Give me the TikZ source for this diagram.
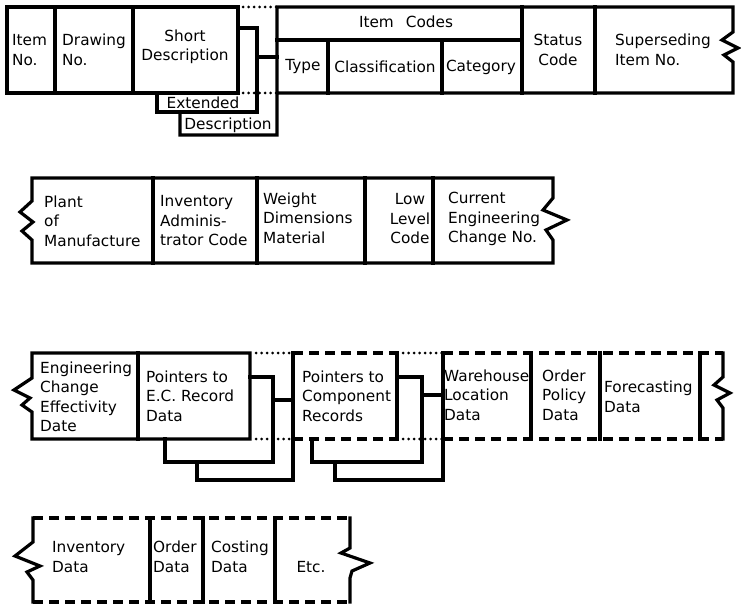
\documentclass[tikz,border=0pt]{standalone}
\usepackage{fontspec}
\setmainfont{DejaVu Sans}
\begin{document}
\begin{tikzpicture}[x=1pt,y=-1pt,
  boxline/.style={line width=3.2pt, line join=miter, line cap=rect},
  dashline/.style={line width=3.2pt, dash pattern=on 10pt off 6pt},
  dotline/.style={line width=3pt, line cap=round, dash pattern=on 0pt off 5.5pt},
  lbl/.style={font=\fontsize{15.3}{19.5}\selectfont, inner sep=0pt, align=left, anchor=west},
  clbl/.style={font=\fontsize{15.3}{19.5}\selectfont, inner sep=0pt, align=center}]
\useasboundingbox (0,0) rectangle (741,604);

% ---------- Row 1 ----------
\draw[boxline] (7,7) rectangle (238,93);
\draw[boxline] (55,7)--(55,93) (133,7)--(133,93);
\draw[dotline] (243,7)--(277,7) (243,93)--(277,93);
\draw[boxline] (180,112)--(180,135)--(277,135)--(277,7)--(733,7)--(733,32)--(722,40)--(738,48)--(724,55)--(733,62)--(733,93)--(277,93);
\draw[boxline] (277,40)--(522,40) (328,40)--(328,93) (442,40)--(442,93) (522,7)--(522,93) (595,7)--(595,93);
\draw[boxline] (238,28)--(257,28)--(257,112)--(157,112)--(157,93);
\draw[boxline] (257,57)--(277,57);

\node[lbl] (itemno) at (12,50) {Item\\No.};
\node[lbl] (drawno) at (62,50) {Drawing\\No.};
\node[clbl] (shortd) at (185,47) {Short\\Description};
\node[clbl] (ext) at (203,103) {Extended};
\node[clbl] (extd) at (228,125) {Description};
\node[clbl] (itemcodes) at (406,22) {Item\hspace{12pt}Codes};
\node[clbl] (type) at (303,67) {Type};
\node[clbl] (classif) at (385,67) {Classification};
\node[clbl] (categ) at (481,67) {Category};
\node[clbl] (status) at (558,50) {Status\\Code};
\node[lbl] (supers) at (615,50) {Superseding\\Item No.};

% ---------- Row 2 ----------
\draw[boxline] (32,178)--(553,178)--(553,198)--(543,210)--(567,220)--(546,230)--(553,240)--(553,263)--(32,263)--(32,240)--(22,231)--(33,222)--(20,212)--(32,201)--cycle;
\draw[boxline] (153,178)--(153,263) (257,178)--(257,263) (365,178)--(365,263) (433,178)--(433,263);

\node[lbl] (plant) at (44,221) {Plant\\of\\Manufacture};
\node[lbl] (invadm) at (160,221) {Inventory\\Adminis-\\trator Code};
\node[lbl] (weight) at (263,218) {Weight\\Dimensions\\Material};
\node[clbl] (lowlev) at (410,219) {Low\\Level\\Code};
\node[lbl] (curreng) at (448,219) {Current\\Engineering\\Change No.};

% ---------- Row 3 ----------
\draw[boxline] (250,353)--(32,353)--(32,378)--(14,390)--(30,398)--(22,405)--(32,412)--(32,439)--(250,439)--cycle;
\draw[boxline] (138,353)--(138,439);
\draw[dotline] (256,353)--(293,353) (256,439)--(293,439);
\draw[boxline] (250,377)--(273,377)--(273,462)--(165,462)--(165,439);
\draw[boxline] (273,400)--(293,400);
\draw[boxline] (197,462)--(197,480)--(293,480)--(293,353);
\draw[dashline] (293,353)--(397,353) (293,439)--(397,439);
\draw[boxline] (397,353)--(397,439);
\draw[dotline] (403,353)--(443,353) (403,439)--(443,439);
\draw[boxline] (397,377)--(422,377)--(422,462)--(312,462)--(312,439);
\draw[boxline] (422,395)--(443,395);
\draw[boxline] (335,462)--(335,480)--(443,480)--(443,353);
\draw[dashline] (443,353)--(723,353) (443,439)--(723,439);
\draw[boxline] (531,353)--(531,439) (600,353)--(600,439) (700,353)--(700,439);
\draw[boxline] (723,353)--(723,377)--(714,385)--(730,393)--(717,400)--(723,408)--(723,439);

\node[lbl] (engchg) at (40,397) {Engineering\\Change\\Effectivity\\Date};
\node[lbl] (ptrec) at (146,396) {Pointers to\\E.C. Record\\Data};
\node[lbl] (ptcomp) at (302,396) {Pointers to\\Component\\Records};
\node[lbl] (wareh) at (444,395) {Warehouse\\Location\\Data};
\node[lbl] (ordpol) at (542,395) {Order\\Policy\\Data};
\node[lbl] (fcast) at (604,397) {Forecasting\\Data};

% ---------- Row 4 ----------
\draw[boxline] (33,602)--(33,580)--(27,572)--(40,566)--(15,556)--(33,542)--(33,518);
\draw[dashline] (33,518)--(350,518) (33,602)--(350,602);
\draw[boxline] (150,518)--(150,602) (203,518)--(203,602) (275,518)--(275,602);
\draw[boxline] (350,518)--(350,548)--(341,553)--(370,563)--(352,571)--(350,578)--(350,602);

\node[lbl] (invdata) at (52,557) {Inventory\\Data};
\node[lbl] (orddata) at (153,557) {Order\\Data};
\node[lbl] (costdata) at (211,557) {Costing\\Data};
\node[clbl] (etc) at (311,567) {Etc.};
\end{tikzpicture}
\end{document}
